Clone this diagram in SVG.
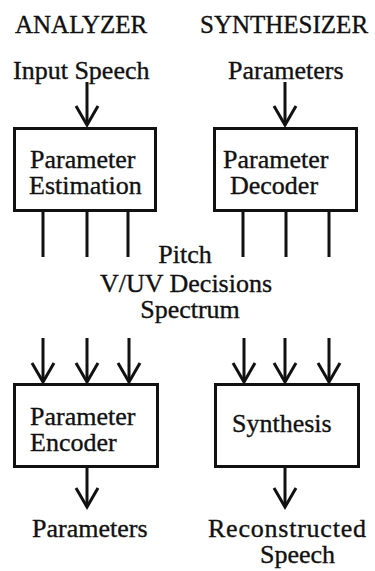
<svg xmlns="http://www.w3.org/2000/svg" width="375" height="571" viewBox="0 0 375 571">
  <style>
    text { font-family: "Liberation Serif", "Times New Roman", serif; font-size: 26px; fill: #111; stroke: #111; stroke-width: 0.35; }
    .head { font-size: 25px; }
    .mid { text-anchor: middle; }
    .box { fill: #fff; stroke: #111; stroke-width: 3; }
    .wire { stroke: #111; stroke-width: 3; fill: none; }
  </style>
  <defs>
    <!-- open chevron arrowhead, tip at the line end -->
    <marker id="chev" markerUnits="userSpaceOnUse" markerWidth="30" markerHeight="30" viewBox="-25 -15 30 30" refX="0" refY="0" orient="auto">
      <path d="M -19 -11 L 0 0 L -19 11" fill="none" stroke="#111" stroke-width="3" stroke-linejoin="miter"/>
    </marker>
  </defs>

  <rect width="375" height="571" fill="#fff"/>

  <!-- column headings and external labels -->
  <g id="labels">
    <text class="head" x="15" y="33">ANALYZER</text>
    <text class="head" x="200" y="33">SYNTHESIZER</text>
    <text x="13" y="79">Input Speech</text>
    <text x="228" y="79">Parameters</text>
    <text class="mid" x="185" y="263">Pitch</text>
    <text class="mid" x="186" y="292">V/UV Decisions</text>
    <text class="mid" x="190" y="318">Spectrum</text>
    <text x="32" y="537">Parameters</text>
    <text x="208" y="537" textLength="158">Reconstructed</text>
    <text x="260" y="563">Speech</text>
  </g>

  <!-- connectors -->
  <g id="connectors" class="wire">
    <line x1="87" y1="82" x2="87" y2="125" marker-end="url(#chev)"/>
    <line x1="285" y1="82" x2="285" y2="125" marker-end="url(#chev)"/>
    <!-- parameter outputs of estimation / decoder -->
    <line x1="43" y1="212" x2="43" y2="257"/>
    <line x1="87" y1="212" x2="87" y2="257"/>
    <line x1="128" y1="212" x2="128" y2="257"/>
    <line x1="243" y1="212" x2="243" y2="257"/>
    <line x1="286" y1="212" x2="286" y2="257"/>
    <line x1="329" y1="212" x2="329" y2="257"/>
    <!-- parameter inputs of encoder / synthesis -->
    <line x1="43" y1="338" x2="43" y2="382" marker-end="url(#chev)"/>
    <line x1="87" y1="338" x2="87" y2="382" marker-end="url(#chev)"/>
    <line x1="129" y1="338" x2="129" y2="382" marker-end="url(#chev)"/>
    <line x1="244" y1="338" x2="244" y2="382" marker-end="url(#chev)"/>
    <line x1="285" y1="338" x2="285" y2="382" marker-end="url(#chev)"/>
    <line x1="329" y1="338" x2="329" y2="382" marker-end="url(#chev)"/>
    <!-- outputs -->
    <line x1="87" y1="468" x2="87" y2="507" marker-end="url(#chev)"/>
    <line x1="285" y1="468" x2="285" y2="507" marker-end="url(#chev)"/>
  </g>

  <g id="parameter-estimation">
    <rect class="box" x="14.5" y="128.5" width="141" height="82"/>
    <text x="30" y="168">Parameter</text>
    <text x="29" y="194">Estimation</text>
  </g>

  <g id="parameter-decoder">
    <rect class="box" x="214.5" y="128.5" width="142" height="82"/>
    <text x="223" y="168">Parameter</text>
    <text x="230" y="194">Decoder</text>
  </g>

  <g id="parameter-encoder">
    <rect class="box" x="14.5" y="384.5" width="143" height="82"/>
    <text x="30" y="425">Parameter</text>
    <text x="30" y="451">Encoder</text>
  </g>

  <g id="synthesis">
    <rect class="box" x="215.5" y="384.5" width="143" height="82"/>
    <text x="232" y="432">Synthesis</text>
  </g>
</svg>
